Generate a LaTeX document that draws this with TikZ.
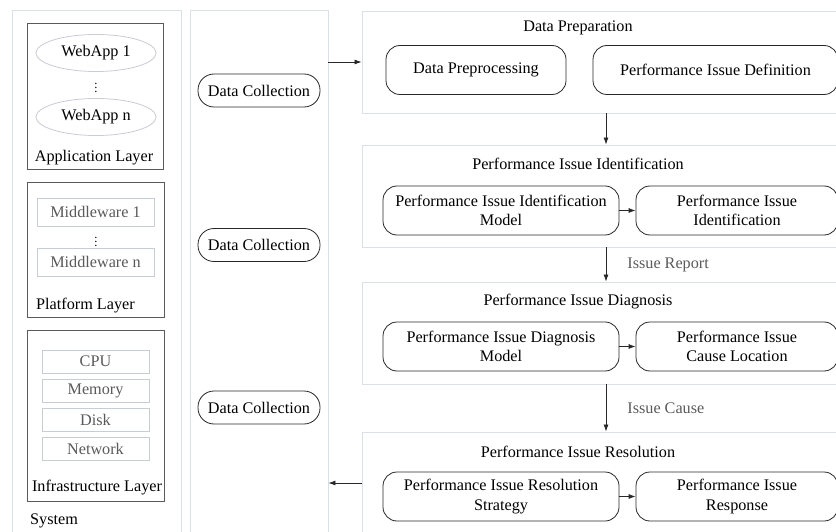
\documentclass[tikz,border=0pt]{standalone}
\usepackage{fontspec}
\setmainfont{Liberation Serif}
\usepackage{tikz}
\usetikzlibrary{shapes.geometric, arrows.meta, positioning}
\definecolor{framegray}{RGB}{218,223,232}
\definecolor{itemgray}{RGB}{200,204,212}
\definecolor{layergray}{RGB}{90,90,90}
\definecolor{textgray}{RGB}{90,90,90}
\definecolor{linedark}{RGB}{40,40,40}

\begin{document}
\begin{tikzpicture}[x=1pt, y=-1pt,
    every node/.style={font=\fontsize{16.2}{19.5}\selectfont, inner sep=0pt},
    column/.style={rectangle, draw=framegray, line width=0.9pt, fill=white},
    layer/.style={rectangle, draw=layergray, line width=0.8pt},
    app/.style={ellipse, draw=itemgray, line width=0.8pt, minimum width=120pt, minimum height=37pt},
    item/.style={rectangle, draw=itemgray, line width=0.8pt, text=textgray},
    dots/.style={font=\fontsize{12.5}{12.5}\selectfont\boldmath},
    collect/.style={rectangle, rounded corners=16pt, draw=linedark, line width=0.8pt,
      minimum width=122pt, minimum height=33pt},
    stage/.style={rectangle, draw=framegray, line width=0.9pt, fill=white,
      minimum width=488pt, minimum height=102pt},
    task/.style={rectangle, rounded corners=14pt, draw=linedark, line width=0.8pt,
      minimum height=49pt, align=center},
    arr/.style={-{Latex[length=7pt,width=5pt]}, line width=0.8pt, color=linedark}
  ]
    \useasboundingbox (0,0) rectangle (836,532);
    \clip (0,0) rectangle (836,532);

    % system and data collection columns
    \node[column, minimum width=169pt, minimum height=532pt] (sys) at (96.5,276) {};
    \node[column, minimum width=138pt, minimum height=532pt] (dccol) at (259,276) {};

    \node[layer, minimum width=136pt, minimum height=146pt] (applayer) at (95,96) {};
    \node[app] (web1) at (96,53) {WebApp 1};
    \node[dots] (appdots) at (96,85) {$\vdots$};
    \node[app] (webn) at (96,117) {WebApp n};
    \node (applabel) at (94,158) {Application Layer};

    \node[layer, minimum width=137pt, minimum height=135pt] (platlayer) at (95.5,249.5) {};
    \node[item, minimum width=117pt, minimum height=28pt] (mid1) at (95.5,212) {Middleware 1};
    \node[dots] (middots) at (96,239) {$\vdots$};
    \node[item, minimum width=117pt, minimum height=28pt] (midn) at (95.5,262) {Middleware n};
    \node[anchor=west] (platlabel) at (36,306) {Platform Layer};

    \node[layer, minimum width=137pt, minimum height=171pt] (infralayer) at (95.5,415.5) {};
    \foreach \res/\y in {CPU/361.5, Memory/390.5, Disk/420, Network/448.5}
      \node[item, minimum width=107pt, minimum height=23pt] (\res) at (95.5,\y) {\res};
    \node (infralabel) at (97,488) {Infrastructure Layer};
    \node[anchor=west] (syslabel) at (30,521) {System};

    \node[collect] (dc1) at (259,90.5) {Data Collection};
    \node[collect] (dc2) at (259,245) {Data Collection};
    \node[collect] (dc3) at (259,407.5) {Data Collection};

    % stages
    \node[stage] (prep) at (606,62) {};
    \node[stage] (ident) at (606,196) {};
    \node[stage] (diag) at (606,333) {};
    \node[stage] (res) at (606,483) {};

    \node (preptitle) at (578,28) {Data Preparation};
    \node (identtitle) at (578,164) {Performance Issue Identification};
    \node (diagtitle) at (578,302) {Performance Issue Diagnosis};
    \node (restitle) at (578,452) {Performance Issue Resolution};

    \node[task, minimum width=180pt] (prepro) at (476,70) {Data Preprocessing};
    \node[task, minimum width=245pt] (definition) at (715.5,70) {Performance Issue Definition};
    \node[task, minimum width=236pt] (identmodel) at (501,210.5) {Performance Issue Identification\\Model};
    \node[task, minimum width=202pt] (identout) at (737,210.5) {Performance Issue\\Identification};
    \node[task, minimum width=236pt] (diagmodel) at (501,346.5) {Performance Issue Diagnosis\\Model};
    \node[task, minimum width=202pt] (diagout) at (737,346.5) {Performance Issue\\Cause Location};
    \node[task, minimum width=236pt] (resmodel) at (501,496.5) {Performance Issue Resolution\\Strategy};
    \node[task, minimum width=202pt] (resout) at (737,496.5) {Performance Issue\\Response};

    % connectors
    \draw[arr] (identmodel) -- (identout);
    \draw[arr] (diagmodel) -- (diagout);
    \draw[arr] (resmodel) -- (resout);
    \draw[arr] (prep) -- (ident);
    \draw[arr] (ident) -- node[right=21pt, text=textgray] (reportlabel) {Issue Report} (diag);
    \draw[arr] (diag) -- node[right=21pt, text=textgray] (causelabel) {Issue Cause} (res);
    \draw[arr] (dccol.east |- prep.west) -- (prep.west);
    \draw[arr] (res.west) -- (dccol.east |- res.west);
  \end{tikzpicture}
\end{document}
